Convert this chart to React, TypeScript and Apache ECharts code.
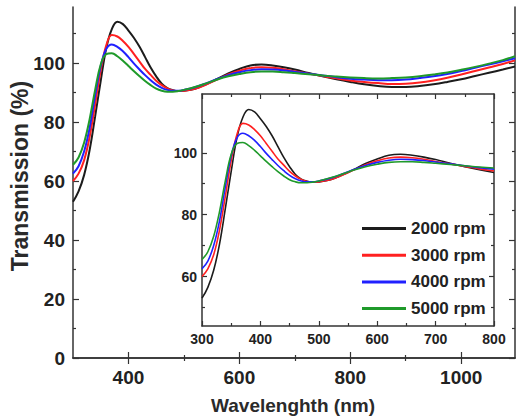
import { useEffect, useRef } from "react";
import * as echarts from "echarts";

// Wavelength (nm)
const wavelengths = [
  300, 310, 320, 330, 340, 350, 360, 370, 380, 390, 400, 410, 420, 430, 440, 450,
  460, 470, 480, 490, 500, 520, 540, 560, 580, 600, 620, 640, 660, 680, 700, 725,
  750, 775, 800, 825, 850, 875, 900, 925, 950, 975, 1000, 1025, 1050, 1075, 1097,
];

// Transmission (%)
const rpm2000 = [
  53, 56.5, 62, 70.5, 82, 94, 105, 111.5, 114, 113.2, 111, 108.5, 105.5, 102, 98.5, 95.5,
  93, 91.5, 90.8, 90.5, 90.6, 91.3, 92.8, 94.6, 96.5, 98, 99.2, 99.5, 99.2, 98.6, 97.8, 96.6,
  95.5, 94.5, 93.6, 92.8, 92.2, 91.9, 91.9, 92.2, 92.8, 93.6, 94.5, 95.6, 96.7, 97.8, 98.8,
];
const rpm3000 = [
  60, 62.5, 67, 75, 86, 97.5, 106, 109.5, 109, 107.5, 105.5, 103, 100.5, 98, 96, 94,
  92.5, 91.4, 90.7, 90.5, 90.6, 91.3, 92.7, 94.4, 96.1, 97.4, 98.3, 98.6, 98.4, 97.9, 97.2, 96.4,
  95.6, 94.8, 94.1, 93.6, 93.2, 92.9, 93, 93.4, 94.1, 95, 96.1, 97.3, 98.5, 99.7, 100.9,
];
const rpm4000 = [
  62.5, 65, 70, 78, 89, 99, 104.8, 106.3, 105.5, 104, 102, 99.8, 97.8, 95.9, 94.2, 92.7,
  91.6, 90.9, 90.6, 90.6, 90.9, 91.8, 93.1, 94.6, 95.9, 96.9, 97.6, 97.9, 97.8, 97.5, 97, 96.4,
  95.8, 95.2, 94.7, 94.4, 94.2, 94.2, 94.4, 94.9, 95.5, 96.3, 97.3, 98.4, 99.5, 100.6, 101.6,
];
const rpm5000 = [
  65.5, 68, 73, 81, 91, 99.5, 103, 103.3, 102.3, 100.8, 99, 97.2, 95.5, 93.9, 92.5, 91.3,
  90.6, 90.3, 90.3, 90.5, 90.9, 91.9, 93.1, 94.4, 95.5, 96.3, 96.9, 97.1, 97.1, 96.9, 96.6, 96.2,
  95.8, 95.4, 95.1, 94.9, 94.8, 94.9, 95.1, 95.5, 96.1, 96.8, 97.7, 98.7, 99.8, 101, 102.3,
];

const seriesNames = ["2000 rpm", "3000 rpm", "4000 rpm", "5000 rpm"];
const seriesValues = [rpm2000, rpm3000, rpm4000, rpm5000];
const seriesColors = ["#1c1c1c", "#ff2020", "#2020ff", "#1f9a2a"];

// Tick values
const mainXLabels = [400, 600, 800, 1000];
const mainXMinor = [500, 700, 900];
const mainYLabels = [0, 20, 40, 60, 80, 100];
const mainYMinor = [10, 30, 50, 70, 90, 110];
const insetXLabels = [300, 400, 500, 600, 700, 800];
const insetXMinor = [350, 450, 550, 650, 750];
const insetYLabels = [60, 80, 100];
const insetYMinor = [50, 70, 90, 110];

const REG = "'Liberation Sans', Arial, sans-serif";
const AXIS_COLOR = "#333";

function makeAxes(
  gridIndex: number,
  min: number,
  max: number,
  labels: number[],
  minor: number[],
  posMain: string,
  posMirror: string,
  fontSize: number,
  margin: number,
  majorLen: number,
  minorLen: number,
  z: number
) {
  const base = {
    type: "value",
    gridIndex,
    min,
    max,
    z,
    splitLine: { show: false },
  };
  const line = { show: true, lineStyle: { color: AXIS_COLOR, width: 1.5 } };
  return [
    {
      ...base,
      position: posMain,
      axisLine: line,
      axisTick: {
        show: true,
        inside: true,
        length: majorLen,
        customValues: labels,
        lineStyle: { color: AXIS_COLOR, width: 1.2 },
      },
      axisLabel: {
        show: true,
        customValues: labels,
        margin,
        color: "#222",
        fontFamily: REG,
        fontWeight: "bold",
        fontSize,
        formatter: (v: number) => String(v),
      },
    },
    {
      ...base,
      position: posMain,
      axisLine: { show: false },
      axisTick: {
        show: true,
        inside: true,
        length: minorLen,
        customValues: minor,
        lineStyle: { color: AXIS_COLOR, width: 1.2 },
      },
      axisLabel: { show: false },
    },
    {
      ...base,
      position: posMirror,
      axisLine: line,
      axisTick: {
        show: true,
        inside: true,
        length: majorLen,
        customValues: labels,
        lineStyle: { color: AXIS_COLOR, width: 1.2 },
      },
      axisLabel: { show: false },
    },
    {
      ...base,
      position: posMirror,
      axisLine: { show: false },
      axisTick: {
        show: true,
        inside: true,
        length: minorLen,
        customValues: minor,
        lineStyle: { color: AXIS_COLOR, width: 1.2 },
      },
      axisLabel: { show: false },
    },
  ];
}

export default function App() {
  const ref = useRef<HTMLDivElement>(null);

  useEffect(() => {
    if (!ref.current) return;
    const chart = echarts.init(ref.current, null, { renderer: "svg" });

    const mainSeries = seriesNames.map((name, i) => ({
      name,
      type: "line",
      xAxisIndex: 0,
      yAxisIndex: 0,
      data: wavelengths.map((w, j) => [w, seriesValues[i][j]]),
      smooth: 0.4,
      symbol: "none",
      showSymbol: false,
      lineStyle: { color: seriesColors[i], width: 2 },
      itemStyle: { color: seriesColors[i] },
      z: 2,
    }));

    const insetSeries = seriesNames.map((name, i) => ({
      name,
      type: "line",
      xAxisIndex: 4,
      yAxisIndex: 4,
      data: wavelengths
        .map((w, j) => [w, seriesValues[i][j]])
        .filter((p) => p[0] <= 800),
      smooth: 0.4,
      symbol: "none",
      showSymbol: false,
      lineStyle: { color: seriesColors[i], width: 1.6 },
      itemStyle: { color: seriesColors[i] },
      z: 5,
    }));

    chart.setOption({
      animation: false,
      backgroundColor: "#fff",
      grid: [
        { left: 73, top: 7, right: 8, bottom: 59, show: false },
        {
          left: 202,
          top: 94,
          right: 29,
          bottom: 91,
          show: true,
          backgroundColor: "#fff",
          borderWidth: 0,
          z: 3,
        },
      ],
      xAxis: [
        ...makeAxes(0, 300, 1097, mainXLabels, mainXMinor, "bottom", "top", 19, 10, 6, 3, 0),
        ...makeAxes(1, 300, 800, insetXLabels, insetXMinor, "bottom", "top", 14, 6, 5, 3, 4),
      ],
      yAxis: [
        ...makeAxes(0, 0, 119, mainYLabels, mainYMinor, "left", "right", 19, 8, 6, 3, 0),
        ...makeAxes(1, 44, 119, insetYLabels, insetYMinor, "left", "right", 14, 5, 5, 3, 4),
      ],
      legend: {
        data: seriesNames,
        orient: "vertical",
        left: 357,
        top: 214,
        itemWidth: 44,
        itemHeight: 3,
        itemGap: 7.7,
        icon: "rect",
        z: 6,
        selectedMode: false,
        textStyle: {
          fontFamily: REG,
          fontWeight: "bold",
          fontSize: 17,
          lineHeight: 19,
          color: "#222",
        },
      },
      graphic: [
        {
          type: "text",
          x: 20,
          y: 176,
          rotation: Math.PI / 2,
          style: {
            text: "Transmission (%)",
            font: `bold 23px ${REG}`,
            fill: "#2a2a2a",
            align: "center",
            verticalAlign: "middle",
          },
        },
        {
          type: "text",
          x: 293,
          y: 405,
          style: {
            text: "Wavelenghth (nm)",
            font: `bold 19px ${REG}`,
            fill: "#2a2a2a",
            align: "center",
            verticalAlign: "middle",
          },
        },
      ],
      series: [...mainSeries, ...insetSeries],
    });

    return () => chart.dispose();
  }, []);

  return (
    <div
      ref={ref}
      style={{ position: "fixed", left: 0, top: 0, width: 523, height: 417 }}
    />
  );
}
